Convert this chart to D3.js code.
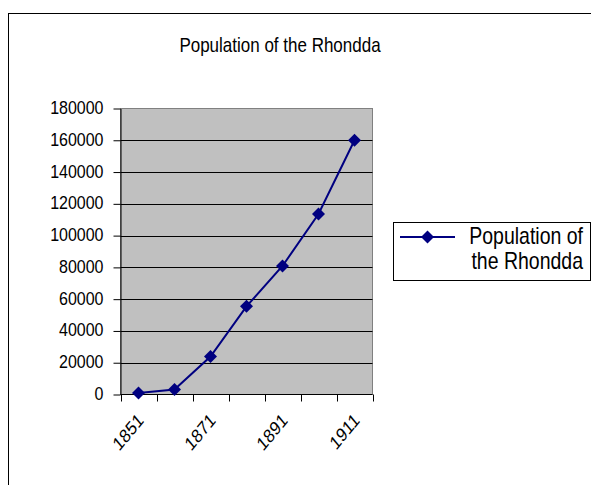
<!DOCTYPE html>
<html>
<head>
<meta charset="utf-8">
<script src="https://cdn.jsdelivr.net/npm/d3@7"></script>
<style>
  body { margin: 0; background: #fff; }
  svg { display: block; font-family: "Liberation Sans", Arial, sans-serif; }
</style>
</head>
<body>
<svg id="chart" width="591" height="485"></svg>
<script>
// Census years and population of the Rhondda
const years = ["1851", "1861", "1871", "1881", "1891", "1901", "1911"];
const population = [900, 3100, 23900, 55500, 80900, 113600, 160000];
const yTickValues = [0, 20000, 40000, 60000, 80000, 100000, 120000, 140000, 160000, 180000];
const xTickLabels = ["1851", "1871", "1891", "1911"];
const chartTitle = "Population of the Rhondda";
const legendLines = ["Population of", "the Rhondda"];

const STRETCH = 1.2;   // glyphs are drawn slightly taller than wide
const plot = { left: 120.5, right: 372.5, top: 108.5, bottom: 394.5 };
const navy = "#000080";

const svg = d3.select("#chart");

// places a text anchored at (px, py), stretched vertically, optionally rotated
function label(parent, px, py, str, size, anchor, rot) {
  return parent.append("text")
    .attr("transform", `translate(${px},${py}) scale(1,${STRETCH})` + (rot ? ` rotate(${rot})` : ""))
    .attr("text-anchor", anchor)
    .attr("font-size", size)
    .attr("fill", "#000")
    .text(str);
}

// outer chart frame (runs off the right and bottom edges)
svg.append("rect")
  .attr("x", 8.5).attr("y", 13.5)
  .attr("width", 640).attr("height", 520)
  .attr("fill", "#fff").attr("stroke", "#000").attr("stroke-width", 1);

label(svg, 280, 52, chartTitle, 17, "middle");

const x = d3.scaleBand().domain(years).range([plot.left, plot.right]);
const y = d3.scaleLinear().domain([0, 180000]).range([plot.bottom, plot.top]);

// plot area
svg.append("rect")
  .attr("x", plot.left).attr("y", plot.top)
  .attr("width", plot.right - plot.left).attr("height", plot.bottom - plot.top)
  .attr("fill", "#c0c0c0").attr("stroke", "#808080").attr("stroke-width", 1);

// horizontal gridlines
svg.append("g")
  .selectAll("line")
  .data(yTickValues.filter(v => v > 0 && v < 180000))
  .join("line")
  .attr("x1", plot.left).attr("x2", plot.right)
  .attr("y1", d => Math.round(y(d)) + 0.5).attr("y2", d => Math.round(y(d)) + 0.5)
  .attr("stroke", "#000").attr("stroke-width", 1);

// y axis: line, ticks and labels
const yAxis = svg.append("g")
  .attr("transform", `translate(${plot.left},0)`)
  .call(d3.axisLeft(y).tickValues(yTickValues).tickFormat("").tickSize(7).tickSizeOuter(0));
yAxis.select(".domain").attr("stroke", "#000");
const yLabels = svg.append("g");
yTickValues.forEach(v => label(yLabels, plot.left - 17, y(v) + 5.5, d3.format("d")(v), 16, "end"));

// x axis: ticks at category boundaries, labels on alternate years
const boundaries = years.map(d => x(d)).concat([plot.right]);
const xg = svg.append("g");
xg.append("line")
  .attr("x1", plot.left).attr("x2", plot.right)
  .attr("y1", plot.bottom).attr("y2", plot.bottom)
  .attr("stroke", "#000");
xg.selectAll("line.tick")
  .data(boundaries)
  .join("line")
  .attr("class", "tick")
  .attr("x1", d => Math.round(d) + 0.5).attr("x2", d => Math.round(d) + 0.5)
  .attr("y1", plot.bottom).attr("y2", plot.bottom + 7)
  .attr("stroke", "#000");
xTickLabels.forEach(d => label(xg, x(d) + x.bandwidth() / 2 + 6, plot.bottom + 27, d, 16, "end", -45));

// series line and markers
const pts = years.map((yr, i) => [x(yr) + x.bandwidth() / 2, y(population[i])]);
svg.append("path")
  .attr("d", d3.line()(pts))
  .attr("fill", "none").attr("stroke", navy).attr("stroke-width", 2);

const diamond = d3.symbol().type(d3.symbolSquare).size(85);
svg.append("g")
  .selectAll("path")
  .data(pts)
  .join("path")
  .attr("d", diamond)
  .attr("transform", d => `translate(${d[0]},${d[1]}) rotate(45)`)
  .attr("fill", navy);

// legend
const lg = svg.append("g");
lg.append("rect")
  .attr("x", 393.5).attr("y", 222.5)
  .attr("width", 197).attr("height", 58)
  .attr("fill", "#fff").attr("stroke", "#000");
lg.append("line")
  .attr("x1", 400).attr("x2", 455).attr("y1", 237).attr("y2", 237)
  .attr("stroke", navy).attr("stroke-width", 2);
lg.append("path")
  .attr("d", diamond)
  .attr("transform", "translate(427.5,237) rotate(45)")
  .attr("fill", navy);
legendLines.forEach((t, i) => label(lg, 583, 244 + i * 25, t, 19.5, "end"));
</script>
</body>
</html>
